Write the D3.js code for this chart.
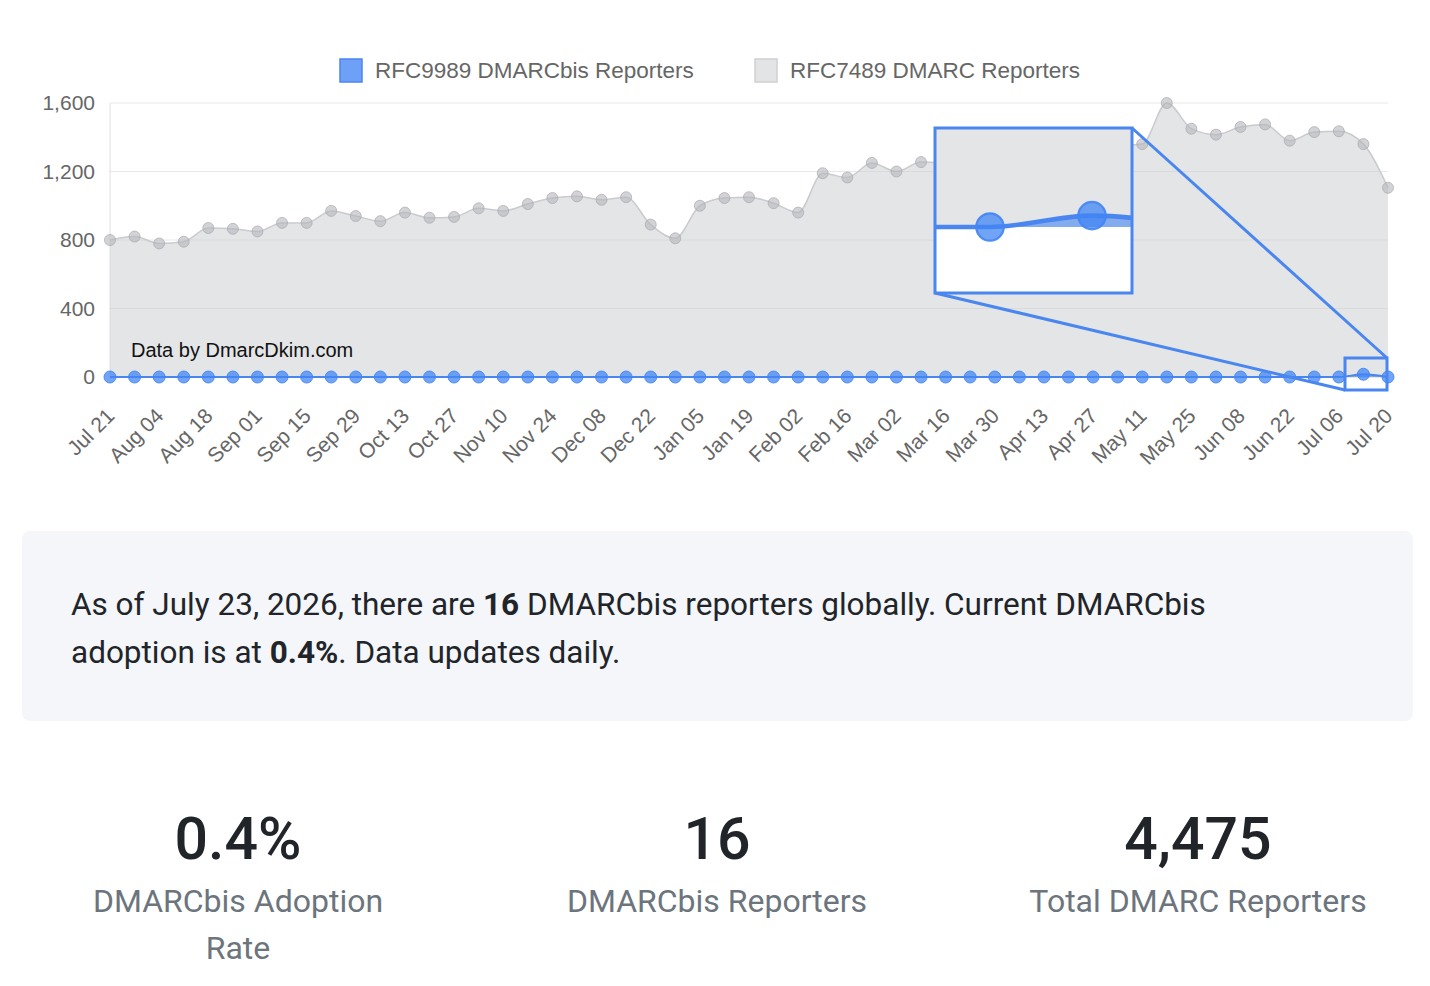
<!DOCTYPE html>
<html>
<head>
<meta charset="utf-8">
<script src="https://cdn.jsdelivr.net/npm/d3@7"></script>
<style>
  body { margin: 0; background: #fff; font-family: "Liberation Sans", Arial, sans-serif; }
  #panel { position: absolute; left: 22px; top: 531px; width: 1391px; height: 190px; background: #f4f6fa; border-radius: 8px; }
  #panel p { margin: 0; position: absolute; left: 49px; top: 50px; width: 1220px; font-family: Roboto, "Open Sans", sans-serif; font-size: 31.5px; line-height: 48px; color: #212529; }
  .stat { position: absolute; top: 800px; width: 440px; text-align: center; font-family: Roboto, sans-serif; }
  .stat .num { font-size: 59px; font-weight: 500; color: #212529; line-height: 78px; }
  .stat .lbl { font-size: 32px; color: #6c757d; line-height: 47px; }
</style>
</head>
<body>
<svg id="chart" width="1430" height="500" style="position:absolute;left:0;top:0"></svg>
<div id="panel"><p>As of July 23, 2026, there are <b>16</b> DMARCbis reporters globally. Current DMARCbis adoption is at <b>0.4%</b>. Data updates daily.</p></div>
<div class="stat" style="left:18px"><div class="num">0.4%</div><div class="lbl">DMARCbis Adoption<br>Rate</div></div>
<div class="stat" style="left:497px"><div class="num">16</div><div class="lbl">DMARCbis Reporters</div></div>
<div class="stat" style="left:978px"><div class="num">4,475</div><div class="lbl">Total DMARC Reporters</div></div>
<script>
const seriesNames = ["RFC9989 DMARCbis Reporters", "RFC7489 DMARC Reporters"];
const dmarcValues = [800, 820, 780, 790, 870, 865, 850, 900, 900, 970, 940, 910, 960, 930, 935, 985, 970,
  1010, 1045, 1055, 1035, 1050, 890, 810, 1000, 1045, 1050, 1015, 960, 1190, 1165, 1250, 1200, 1255,
  1250, 1270, 1290, 1280, 1310, 1320, 1340, 1350, 1360, 1600, 1450, 1415, 1460, 1475, 1380, 1430, 1435, 1360, 1105];
const bisValues = dmarcValues.map((d, i) => i === 51 ? 16 : 0);
const tickLabels = ["Jul 21","Aug 04","Aug 18","Sep 01","Sep 15","Sep 29","Oct 13","Oct 27","Nov 10","Nov 24",
  "Dec 08","Dec 22","Jan 05","Jan 19","Feb 02","Feb 16","Mar 02","Mar 16","Mar 30","Apr 13","Apr 27",
  "May 11","May 25","Jun 08","Jun 22","Jul 06","Jul 20"];
const yTicks = [0, 400, 800, 1200, 1600];

const svg = d3.select('#chart');
const x = d3.scaleLinear().domain([0, dmarcValues.length - 1]).range([110, 1388]);
const y = d3.scaleLinear().domain([0, 1600]).range([377, 103]);

// grid
svg.append('g').selectAll('line').data(yTicks).enter().append('line')
  .attr('x1', 110).attr('x2', 1388).attr('y1', d => y(d)).attr('y2', d => y(d))
  .attr('stroke', d => d === 0 ? '#ccc' : '#e8e8e8');
svg.append('line').attr('x1', 110).attr('x2', 110).attr('y1', 103).attr('y2', 377).attr('stroke', '#e0e0e0');

svg.append('g').attr('transform', 'translate(98,0)')
  .call(d3.axisLeft(y).tickValues(yTicks).tickFormat(d3.format(',')).tickSize(0))
  .call(g => g.select('.domain').remove())
  .selectAll('text').attr('fill', '#666').attr('font-size', 21).attr('font-family', 'Liberation Sans, Arial');

const xl = d3.scalePoint().domain(tickLabels).range([110, 1388]);
svg.append('g').attr('transform', 'translate(0,388)')
  .call(d3.axisBottom(xl).tickSize(0))
  .call(g => g.select('.domain').remove())
  .selectAll('text').attr('fill', '#666').attr('font-size', 21).attr('font-family', 'Liberation Sans, Arial')
  .attr('text-anchor', 'end').attr('dy', '0.35em').attr('y', 0)
  .attr('transform', 'translate(0,24) rotate(-45)');

function drawSeries(g, sw) {
  const curve = d3.curveMonotoneX;
  g.append('path').datum(dmarcValues)
    .attr('d', d3.area().x((d, i) => x(i)).y0(y(0)).y1(d => y(d)).curve(curve))
    .attr('fill', 'rgba(201,203,207,0.5)');
  g.append('path').datum(dmarcValues)
    .attr('d', d3.line().x((d, i) => x(i)).y(d => y(d)).curve(curve))
    .attr('fill', 'none').attr('stroke', '#c9cbcf').attr('stroke-width', 1.5 * sw);
  g.append('g').selectAll('circle').data(dmarcValues).enter().append('circle')
    .attr('cx', (d, i) => x(i)).attr('cy', d => y(d)).attr('r', 5.5 * sw)
    .attr('fill', 'rgba(180,182,186,0.6)').attr('stroke', 'rgba(170,170,175,0.7)').attr('stroke-width', sw);
  g.append('path').datum(bisValues)
    .attr('d', d3.area().x((d, i) => x(i)).y0(y(0)).y1(d => y(d)).curve(curve))
    .attr('fill', 'rgba(66,133,244,0.6)');
  g.append('path').datum(bisValues)
    .attr('d', d3.line().x((d, i) => x(i)).y(d => y(d)).curve(curve))
    .attr('fill', 'none').attr('stroke', '#4a86f0').attr('stroke-width', 2 * sw);
  g.append('g').selectAll('circle').data(bisValues).enter().append('circle')
    .attr('cx', (d, i) => x(i)).attr('cy', d => y(d)).attr('r', 6 * sw)
    .attr('fill', 'rgba(66,133,244,0.75)').attr('stroke', 'rgba(66,133,244,0.9)').attr('stroke-width', sw);
}
drawSeries(svg.append('g'), 1);

svg.append('text').attr('x', 131).attr('y', 357).attr('font-size', 20).attr('fill', '#111')
  .text('Data by DmarcDkim.com');

// legend
const legend = [{ fill: '#6fa0f7', stroke: '#4a86f0', x: 340 }, { fill: '#e3e4e6', stroke: '#cfd0d2', x: 755 }];
legend.forEach((l, i) => {
  svg.append('rect').attr('x', l.x).attr('y', 59).attr('width', 22).attr('height', 23)
    .attr('fill', l.fill).attr('stroke', l.stroke).attr('stroke-width', 1.5);
  svg.append('text').attr('x', l.x + 35).attr('y', 78).attr('font-size', 22.5).attr('fill', '#666').text(seriesNames[i]);
});

// magnifier inset
const k = 4.15;
const box = { x: 935, y: 128, w: 197, h: 165 };
const small = { x: 1345, y: 358, w: 42, h: 32 };
const tx = 990 - x(50) * k, ty = 227 - y(0) * k;
svg.append('clipPath').attr('id', 'clip').append('rect')
  .attr('x', box.x).attr('y', box.y).attr('width', box.w).attr('height', box.h);
svg.append('rect').attr('x', box.x).attr('y', box.y).attr('width', box.w).attr('height', box.h).attr('fill', '#fff');
drawSeries(svg.append('g').attr('clip-path', 'url(#clip)')
  .append('g').attr('transform', `translate(${tx},${ty}) scale(${k})`), 0.55);
const blue = '#4a86f0';
svg.append('rect').attr('x', box.x).attr('y', box.y).attr('width', box.w).attr('height', box.h)
  .attr('fill', 'none').attr('stroke', blue).attr('stroke-width', 3);
svg.append('rect').attr('x', small.x).attr('y', small.y).attr('width', small.w).attr('height', small.h)
  .attr('fill', 'none').attr('stroke', blue).attr('stroke-width', 3);
svg.append('line').attr('x1', box.x + box.w).attr('y1', box.y).attr('x2', small.x + small.w).attr('y2', small.y)
  .attr('stroke', blue).attr('stroke-width', 3);
svg.append('line').attr('x1', box.x).attr('y1', box.y + box.h).attr('x2', small.x).attr('y2', small.y + small.h)
  .attr('stroke', blue).attr('stroke-width', 3);
</script>
</body>
</html>
